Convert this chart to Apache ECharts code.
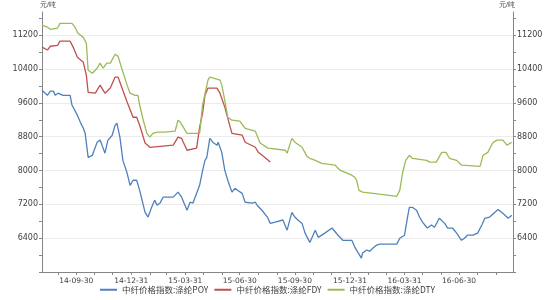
<!DOCTYPE html>
<html><head><meta charset="utf-8">
<script src="https://cdn.jsdelivr.net/npm/echarts@6/dist/echarts.min.js"></script>
<style>html,body{margin:0;padding:0;background:#fff;}#c{width:550px;height:300px;}</style>
</head><body><div id="c"></div>
<script>
const seriesNames = ['中纤价格指数:涤纶POY', '中纤价格指数:涤纶FDY', '中纤价格指数:涤纶DTY'];
const unitLabel = '元/吨';

const poyDates = ['2014-08-04','2014-08-13','2014-08-18','2014-08-23','2014-08-26','2014-08-31','2014-09-08','2014-09-20','2014-09-23','2014-10-02','2014-10-07','2014-10-12','2014-10-15','2014-10-20','2014-10-27','2014-11-04','2014-11-09','2014-11-14','2014-11-17','2014-11-22','2014-11-29','2014-12-04','2014-12-07','2014-12-12','2014-12-17','2014-12-24','2014-12-29','2015-01-03','2015-01-09','2015-01-14','2015-01-18','2015-01-23','2015-01-28','2015-02-03','2015-02-08','2015-02-12','2015-02-17','2015-02-22','2015-03-11','2015-03-19','2015-03-25','2015-04-03','2015-04-08','2015-04-13','2015-04-16','2015-04-24','2015-04-29','2015-05-03','2015-05-06','2015-05-11','2015-05-16','2015-05-23','2015-05-25','2015-05-31','2015-06-05','2015-06-10','2015-06-17','2015-06-22','2015-06-27','2015-07-04','2015-07-09','2015-07-21','2015-07-26','2015-07-29','2015-08-06','2015-08-15','2015-08-20','2015-08-28','2015-09-10','2015-09-17','2015-09-25','2015-09-30','2015-10-05','2015-10-12','2015-10-17','2015-10-25','2015-11-03','2015-11-08','2015-11-19','2015-12-01','2015-12-11','2015-12-19','2016-01-03','2016-01-08','2016-01-13','2016-01-19','2016-01-21','2016-01-28','2016-02-02','2016-02-07','2016-02-13','2016-02-18','2016-03-18','2016-03-23','2016-03-31','2016-04-05','2016-04-08','2016-04-13','2016-04-20','2016-04-25','2016-04-30','2016-05-08','2016-05-15','2016-05-20','2016-05-28','2016-06-06','2016-06-11','2016-06-19','2016-06-26','2016-07-04','2016-07-09','2016-07-14','2016-07-23','2016-07-31','2016-08-07','2016-08-12','2016-08-20','2016-09-03','2016-09-11','2016-09-20','2016-09-26'];
const poyValues = [9900,9780,9880,9880,9780,9830,9780,9780,9550,9310,9140,9000,8880,8310,8360,8670,8720,8530,8410,8720,8830,9070,9120,8790,8240,7940,7650,7770,7770,7530,7300,7010,6900,7130,7300,7180,7230,7370,7370,7490,7370,7060,7250,7230,7250,7650,8000,8240,8310,8760,8670,8600,8670,8430,8010,7770,7490,7580,7530,7460,7250,7230,7250,7180,7060,6900,6750,6780,6830,6590,7010,6900,6830,6750,6520,6300,6590,6420,6520,6640,6470,6350,6350,6190,6070,5930,6050,6120,6090,6160,6230,6260,6260,6400,6470,6900,7130,7130,7060,6900,6780,6640,6710,6660,6870,6750,6640,6640,6520,6350,6400,6470,6470,6520,6710,6870,6900,7080,6990,6870,6940];

const fdyDates = ['2014-08-04','2014-08-13','2014-08-18','2014-08-30','2014-09-03','2014-09-20','2014-09-25','2014-10-02','2014-10-12','2014-10-17','2014-10-20','2014-11-01','2014-11-09','2014-11-17','2014-11-26','2014-12-04','2014-12-09','2014-12-12','2014-12-24','2015-01-03','2015-01-09','2015-01-14','2015-01-23','2015-01-31','2015-03-11','2015-03-19','2015-03-25','2015-04-03','2015-04-19','2015-04-24','2015-04-29','2015-05-03','2015-05-08','2015-05-23','2015-05-28','2015-06-05','2015-06-10','2015-06-17','2015-07-04','2015-07-09','2015-07-26','2015-07-31','2015-08-11','2015-08-20'];
const fdyValues = [10920,10850,10940,10960,11060,11060,10920,10680,10560,10250,9850,9830,10020,9830,9950,10210,10210,10090,9620,9260,9260,9070,8650,8550,8600,8790,8760,8480,8530,9020,9360,9780,9950,9950,9830,9500,9240,8880,8840,8670,8550,8430,8310,8200];

const dtyDates = ['2014-08-04','2014-08-13','2014-08-18','2014-08-30','2014-09-03','2014-09-23','2014-09-28','2014-10-03','2014-10-12','2014-10-17','2014-10-20','2014-10-27','2014-11-04','2014-11-09','2014-11-14','2014-11-20','2014-11-26','2014-12-04','2014-12-09','2014-12-12','2014-12-15','2014-12-24','2014-12-29','2015-01-06','2015-01-11','2015-01-14','2015-01-20','2015-01-26','2015-01-31','2015-02-05','2015-02-13','2015-02-25','2015-03-14','2015-03-19','2015-03-23','2015-04-03','2015-04-24','2015-04-29','2015-05-08','2015-05-11','2015-05-23','2015-05-28','2015-05-31','2015-06-05','2015-06-10','2015-06-17','2015-06-30','2015-07-09','2015-07-26','2015-08-03','2015-08-16','2015-09-14','2015-09-17','2015-09-25','2015-09-30','2015-10-12','2015-10-20','2015-10-25','2015-11-03','2015-11-14','2015-12-06','2015-12-14','2016-01-03','2016-01-08','2016-01-11','2016-01-15','2016-01-21','2016-02-18','2016-03-18','2016-03-23','2016-03-28','2016-04-02','2016-04-08','2016-04-13','2016-05-07','2016-05-12','2016-05-23','2016-06-01','2016-06-08','2016-06-14','2016-06-26','2016-07-04','2016-08-04','2016-08-09','2016-08-17','2016-08-25','2016-09-01','2016-09-11','2016-09-18','2016-09-26'];
const dtyValues = [11440,11390,11340,11370,11480,11480,11390,11250,11150,11010,10370,10300,10420,10540,10420,10540,10540,10750,10700,10660,10420,10020,9830,9780,9780,9550,9190,8880,8790,8880,8910,8910,8930,9190,9140,8880,8880,9550,10140,10210,10160,10140,10020,9660,9260,9190,9170,9000,8930,8650,8530,8480,8410,8760,8670,8550,8340,8290,8240,8170,8130,8010,7890,7840,7770,7530,7490,7440,7390,7530,7960,8240,8360,8290,8240,8200,8200,8430,8430,8290,8240,8130,8100,8360,8430,8650,8720,8720,8600,8670];

const xLabelDates = ['2014-09-30','2014-12-31','2015-03-31','2015-06-30','2015-09-30','2015-12-31','2016-03-31','2016-06-30'];
const xTickDates = ['2014-08-31','2014-09-30','2014-10-31','2014-11-30','2014-12-31','2015-01-31','2015-02-28','2015-03-31','2015-04-30','2015-05-31','2015-06-30','2015-07-31','2015-08-31','2015-09-30','2015-10-31','2015-11-30','2015-12-31','2016-01-31','2016-02-29','2016-03-31','2016-04-30','2016-05-31','2016-06-30','2016-07-31','2016-08-31'];
const yLabelValues = [6400, 7200, 8000, 8800, 9600, 10400, 11200];
const yTickValues = [5600, 6000, 6400, 6800, 7200, 7600, 8000, 8400, 8800, 9200, 9600, 10000, 10400, 10800, 11200, 11600];
const yGridValues = [6400, 7200, 8000, 8800, 9600, 10400, 11200];

const xMin = '2014-08-04', xMax = '2016-09-28';
const yMin = 5600, yMax = 11750;

function ts(s) { const p = s.split('-'); return Date.UTC(+p[0], +p[1] - 1, +p[2]); }
function fmt(v) {
  const d = new Date(v);
  const yy = String(d.getUTCFullYear()).slice(2);
  const mm = String(d.getUTCMonth() + 1).padStart(2, '0');
  const dd = String(d.getUTCDate()).padStart(2, '0');
  return yy + '-' + mm + '-' + dd;
}
function pairs(dates, vals) { return dates.map((d, i) => [ts(d), vals[i]]); }

const colors = ['#4F81BD', '#C0504D', '#9BBB59'];
const labelColor = '#404040';
const axisColor = '#868686';

function yAxisCfg(pos) {
  return {
    type: 'value', position: pos, min: yMin, max: yMax,
    name: unitLabel, nameLocation: 'end', nameGap: 3,
    nameTextStyle: { fontSize: 7, color: labelColor, align: pos === 'left' ? 'left' : 'right', verticalAlign: 'bottom', padding: pos === 'left' ? [0,0,0,-2] : [0,-2,0,0] },
    axisLine: { show: true, lineStyle: { color: axisColor, width: 1 } },
    axisTick: { show: true, inside: false, length: 3, customValues: yTickValues, lineStyle: { color: axisColor } },
    axisLabel: { customValues: yLabelValues, formatter: v => String(v), fontSize: 8, color: labelColor, margin: 4, fontFamily: 'DejaVu Sans' },
    splitLine: { show: false }
  };
}

const chart = echarts.init(document.getElementById('c'), null, { renderer: 'canvas' });
chart.setOption({
  animation: false,
  color: colors,
  grid: { left: 42, right: 37, top: 12, bottom: 28 },
  legend: {
    left: 95, bottom: 1, itemWidth: 17, itemHeight: 2, itemGap: 6,
    icon: 'rect',
    textStyle: { fontSize: 8.5, color: labelColor, fontFamily: 'Noto Sans CJK SC' },
    data: seriesNames
  },
  xAxis: {
    type: 'value', min: ts(xMin), max: ts(xMax),
    axisLine: { show: true, lineStyle: { color: axisColor } },
    axisTick: { show: true, length: 3, customValues: xTickDates.map(ts), lineStyle: { color: axisColor } },
    axisLabel: { customValues: xLabelDates.map(ts), formatter: fmt, fontSize: 7.5, color: labelColor, margin: 5, fontFamily: 'DejaVu Sans' },
    splitLine: { show: false }
  },
  yAxis: [
    yAxisCfg('left'),
    yAxisCfg('right'),
    { type: 'value', min: yMin, max: yMax, show: true, position: 'left',
      axisLine: { show: false }, axisLabel: { show: false },
      axisTick: { show: false, customValues: yGridValues },
      splitLine: { show: true, lineStyle: { color: '#ececec', width: 1 } } }
  ],
  series: [
    { name: seriesNames[0], type: 'line', symbol: 'none', data: pairs(poyDates, poyValues), lineStyle: { width: 1.3 } },
    { name: seriesNames[1], type: 'line', symbol: 'none', data: pairs(fdyDates, fdyValues), lineStyle: { width: 1.3 } },
    { name: seriesNames[2], type: 'line', symbol: 'none', data: pairs(dtyDates, dtyValues), lineStyle: { width: 1.3 } }
  ]
});
</script></body></html>
